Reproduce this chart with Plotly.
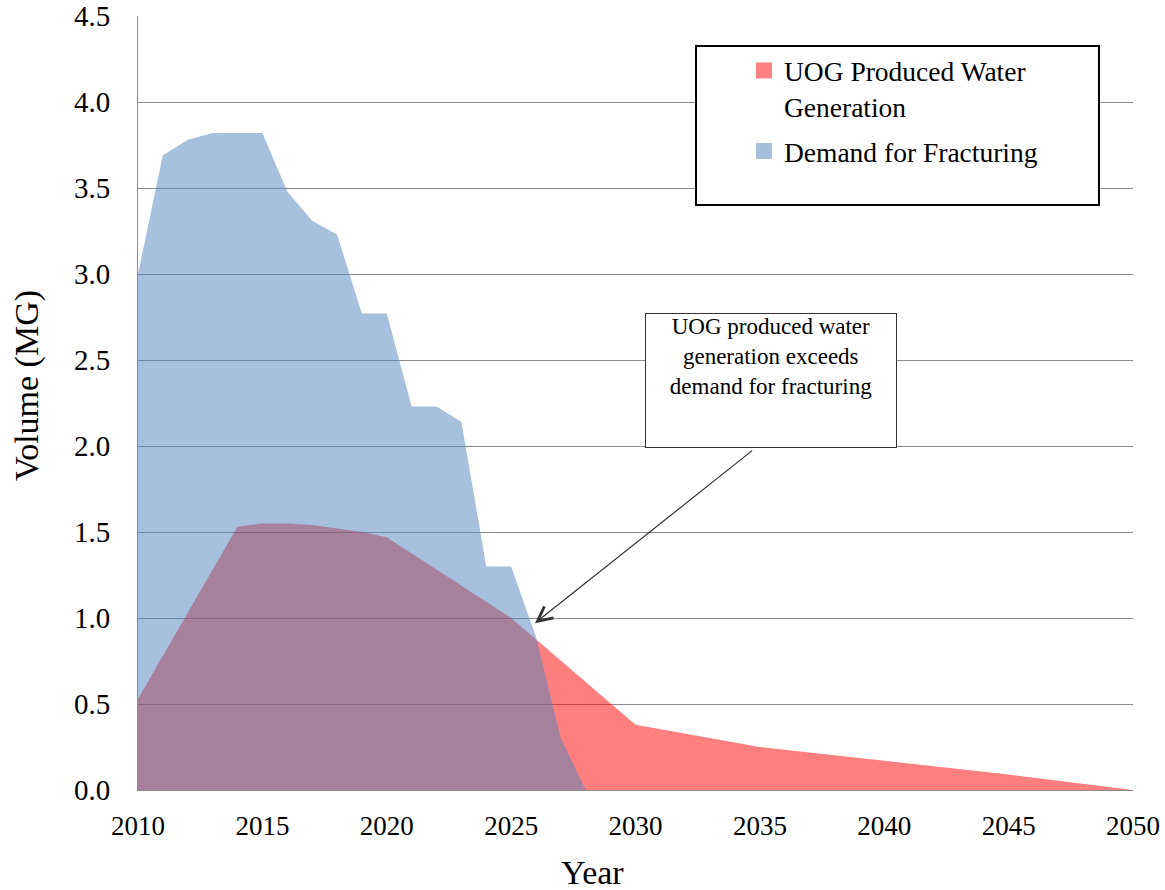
import plotly.graph_objects as go

# ---- data ----
demand_years = [2010, 2011, 2012, 2013, 2014, 2015, 2016, 2017, 2018, 2019,
                2020, 2021, 2022, 2023, 2024, 2025, 2026, 2027, 2028]
demand_values = [3.00, 3.69, 3.78, 3.82, 3.82, 3.82, 3.48, 3.31, 3.23, 2.77,
                 2.77, 2.23, 2.23, 2.14, 1.30, 1.30, 0.89, 0.30, 0.00]

produced_years = [2010, 2014, 2015, 2016, 2017, 2018, 2019, 2020,
                  2025, 2030, 2035, 2040, 2045, 2050]
produced_values = [0.53, 1.53, 1.55, 1.55, 1.54, 1.52, 1.50, 1.47,
                   1.00, 0.38, 0.25, 0.17, 0.09, 0.00]

produced_name = "UOG Produced Water<br>Generation"
demand_name = "Demand for Fracturing"
callout_text = "UOG produced water<br>generation exceeds<br>demand for fracturing"
arrow_head = (2025.96, 0.97)
arrow_tail = (2034.75, 1.98)

FONT = "Liberation Serif, Times New Roman, serif"
RED_FILL = "rgba(255,0,0,0.5)"
BLUE_FILL = "rgba(79,129,189,0.5)"

fig = go.Figure()

fig.add_trace(go.Scatter(
    x=produced_years, y=produced_values, name=produced_name,
    mode="lines", line=dict(width=0), fill="tozeroy", fillcolor=RED_FILL,
    legendgroup="produced", showlegend=False,
))
fig.add_trace(go.Scatter(
    x=demand_years, y=demand_values, name=demand_name,
    mode="lines", line=dict(width=0), fill="tozeroy", fillcolor=BLUE_FILL,
    legendgroup="demand", showlegend=False,
))
# legend entries (square swatches)
fig.add_trace(go.Scatter(
    x=[None], y=[None], name=produced_name, mode="markers",
    marker=dict(symbol="square", size=16, color="#FF8080"),
    legendgroup="produced",
))
fig.add_trace(go.Scatter(
    x=[None], y=[None], name=demand_name, mode="markers",
    marker=dict(symbol="square", size=16, color="#A4BEDC"),
    legendgroup="demand",
))

fig.update_layout(
    width=1165, height=890,
    margin=dict(l=138, r=32, t=16, b=100, autoexpand=False),
    paper_bgcolor="white", plot_bgcolor="white",
    font=dict(family=FONT, color="black", size=27),
    showlegend=True,
    legend=dict(
        x=0.609, y=0.961, xanchor="left", yanchor="top",
        bgcolor="rgba(0,0,0,0)", borderwidth=0,
        font=dict(family=FONT, size=27.5, color="black"),
        valign="top", traceorder="grouped", tracegroupgap=6,
        itemwidth=30,
    ),
    xaxis=dict(
        range=[2010, 2050], dtick=5, tick0=2010,
        showgrid=False, zeroline=False, automargin=False,
        showline=True, linecolor="#8C8C8C", linewidth=1,
        ticks="", tickfont=dict(family=FONT, size=27, color="black"),
        ticklabelstandoff=12,
    ),
    yaxis=dict(
        range=[0, 4.5], dtick=0.5, tick0=0, tickformat=".1f",
        showgrid=True, gridcolor="#8C8C8C", gridwidth=1,
        zeroline=False, automargin=False,
        showline=True, linecolor="#8C8C8C", linewidth=1,
        ticks="", tickfont=dict(family=FONT, size=29, color="black"),
        ticklabelstandoff=21,
    ),
    shapes=[
        dict(type="rect", xref="paper", yref="paper",
             x0=0.5608, x1=0.9658, y0=0.7558, y1=0.9612,
             line=dict(color="black", width=2), fillcolor="white",
             layer="above"),
    ],
    annotations=[
        dict(text="Volume (MG)", xref="paper", yref="paper",
             x=-0.1115, y=0.522, textangle=-90, showarrow=False,
             xanchor="center", yanchor="middle",
             font=dict(family=FONT, size=34, color="black")),
        dict(text="Year", xref="paper", yref="paper",
             x=0.457, y=-0.106, showarrow=False,
             xanchor="center", yanchor="middle",
             font=dict(family=FONT, size=34, color="black")),
        dict(text=callout_text, xref="paper", yref="paper",
             x=0.636, y=0.6163, xanchor="center", yanchor="top",
             showarrow=False, align="center", valign="top",
             width=250, height=133, borderpad=0,
             bgcolor="white", bordercolor="#333333", borderwidth=1,
             font=dict(family=FONT, size=23, color="black")),
        dict(text="", x=arrow_head[0], y=arrow_head[1],
             ax=arrow_tail[0], ay=arrow_tail[1], axref="x", ayref="y",
             xref="x", yref="y", showarrow=True,
             arrowhead=5, arrowsize=2.4, arrowwidth=1.2,
             arrowcolor="#333333"),
    ],
)

fig.write_html("out.html", config={"displayModeBar": False},
               post_script="document.body.style.margin='0';")
